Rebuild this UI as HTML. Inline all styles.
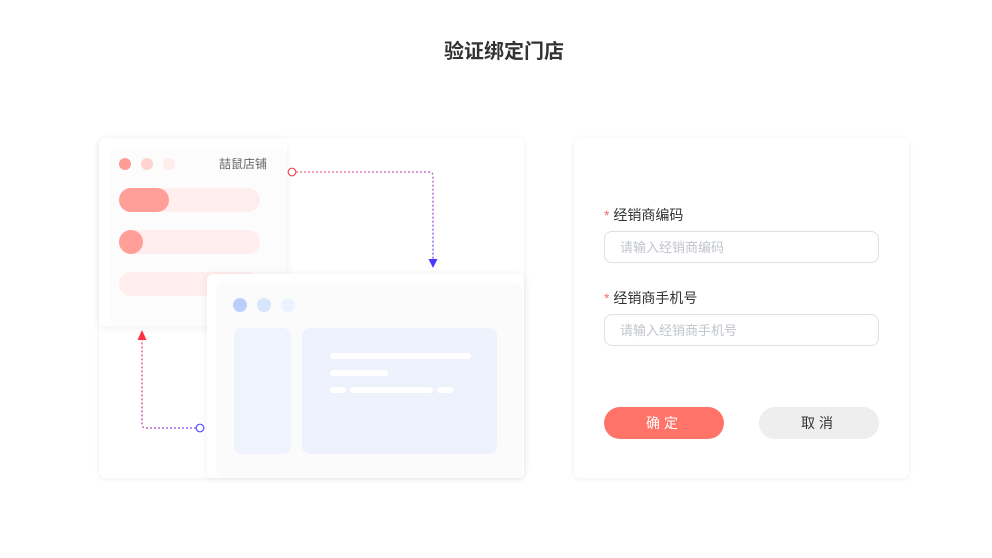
<!DOCTYPE html>
<html><head><meta charset="utf-8"><style>
*{margin:0;padding:0;box-sizing:border-box}
body{width:992px;height:558px;background:#fff;position:relative;overflow:hidden;font-family:"Liberation Sans","Noto Sans CJK SC",sans-serif}
.a{position:absolute}
.card{background:#fff;border-radius:6px;box-shadow:0 1px 6px rgba(0,0,0,0.07)}
.dot{position:absolute;border-radius:50%}
</style></head><body>
<div class="a" style="left:0;top:35px;width:1008px;text-align:center;font-size:20px;font-weight:bold;color:#333">验证绑定门店</div>

<div class="a card" style="left:99px;top:138px;width:425px;height:340px"></div>
<!-- window 1 -->
<div class="a card" style="left:99px;top:138px;width:188px;height:188px;box-shadow:0 2px 8px rgba(0,0,0,0.06)"></div>
<div class="a" style="left:110px;top:148px;width:177px;height:178px;background:#fcfcfc;border-radius:8px"></div>
<div class="dot" style="left:119px;top:158px;width:12px;height:12px;background:#ff9c95"></div>
<div class="dot" style="left:141px;top:158px;width:12px;height:12px;background:#ffd3cf"></div>
<div class="dot" style="left:163px;top:158px;width:12px;height:12px;background:#ffeceb"></div>
<div class="a" style="left:219px;top:155px;font-size:12px;color:#666">喆鼠店铺</div>
<div class="a" style="left:119px;top:188px;width:141px;height:24px;border-radius:12px;background:#ffeeed"></div>
<div class="a" style="left:119px;top:188px;width:50px;height:24px;border-radius:12px;background:#ff9f98"></div>
<div class="a" style="left:119px;top:230px;width:141px;height:24px;border-radius:12px;background:#ffeeed"></div>
<div class="a" style="left:119px;top:230px;width:24px;height:24px;border-radius:12px;background:#ff9f98"></div>
<div class="a" style="left:119px;top:272px;width:141px;height:24px;border-radius:12px;background:#ffeeed"></div>
<!-- window 2 -->
<div class="a card" style="left:207px;top:274px;width:317px;height:204px;box-shadow:0 0 8px rgba(0,0,0,0.07)"></div>
<div class="a" style="left:216px;top:283px;width:307px;height:195px;background:#fbfbfb;border-radius:8px"></div>
<div class="dot" style="left:233px;top:298px;width:14px;height:14px;background:#b8d0fb"></div>
<div class="dot" style="left:257px;top:298px;width:14px;height:14px;background:#d8e6fd"></div>
<div class="dot" style="left:281px;top:298px;width:14px;height:14px;background:#edf3fe"></div>
<div class="a" style="left:234px;top:328px;width:57px;height:126px;border-radius:8px;background:#eef3fd"></div>
<div class="a" style="left:302px;top:328px;width:195px;height:126px;border-radius:8px;background:#edf2fd"></div>
<div class="a" style="left:330px;top:353px;width:141px;height:6px;border-radius:3px;background:#fff"></div>
<div class="a" style="left:330px;top:370px;width:58px;height:6px;border-radius:3px;background:#fff"></div>
<div class="a" style="left:330px;top:387px;width:16px;height:6px;border-radius:3px;background:#fff"></div>
<div class="a" style="left:350px;top:387px;width:83px;height:6px;border-radius:3px;background:#fff"></div>
<div class="a" style="left:437px;top:387px;width:16px;height:6px;border-radius:3px;background:#fff"></div>
<svg class="a" style="left:0;top:0" width="992" height="558">
<defs>
<linearGradient id="g1" x1="0" y1="0" x2="1" y2="1"><stop offset="0" stop-color="#f26b8a"/><stop offset="1" stop-color="#7a4cff"/></linearGradient>
<linearGradient id="g2" x1="1" y1="1" x2="0" y2="0"><stop offset="0" stop-color="#7a4cff"/><stop offset="1" stop-color="#ff4a5a"/></linearGradient>
</defs>
<path d="M296 172 H429 Q433 172 433 176 V262" fill="none" stroke="url(#g1)" stroke-width="1.3" stroke-dasharray="2 2"/>
<circle cx="292" cy="172" r="3.8" fill="#fff" stroke="#f0495a" stroke-width="1.2"/>
<polygon points="428.5,259 437.5,259 433,268" fill="#4a3aff"/>
<path d="M196 428 H146 Q142 428 142 424 V338" fill="none" stroke="url(#g2)" stroke-width="1.3" stroke-dasharray="2 2"/>
<circle cx="200" cy="428" r="3.8" fill="#fff" stroke="#5a4cff" stroke-width="1.2"/>
<polygon points="137.5,340 146.5,340 142,330" fill="#ff3344"/>
</svg>

<!-- form -->
<div class="a card" style="left:574px;top:138px;width:335px;height:340px"></div>
<div class="a" style="left:604px;top:205px;font-size:14px;color:#333"><span style="color:#f56c6c">*</span> 经销商编码</div>
<div class="a" style="left:604px;top:231px;width:275px;height:32px;border:1px solid #dcdfe6;border-radius:8px;font-size:13px;color:#c0c4cc;padding:5px 0 0 15px">请输入经销商编码</div>
<div class="a" style="left:604px;top:288px;font-size:14px;color:#333"><span style="color:#f56c6c">*</span> 经销商手机号</div>
<div class="a" style="left:604px;top:314px;width:275px;height:32px;border:1px solid #dcdfe6;border-radius:8px;font-size:13px;color:#c0c4cc;padding:5px 0 0 15px">请输入经销商手机号</div>
<div class="a" style="left:604px;top:407px;width:120px;height:32px;border-radius:16px;background:#ff7369;color:#fff;font-size:14px;text-align:center;line-height:32px;letter-spacing:4px">确定</div>
<div class="a" style="left:759px;top:407px;width:120px;height:32px;border-radius:16px;background:#eeeeee;color:#333;font-size:14px;text-align:center;line-height:32px;letter-spacing:4px">取消</div>
</body></html>
